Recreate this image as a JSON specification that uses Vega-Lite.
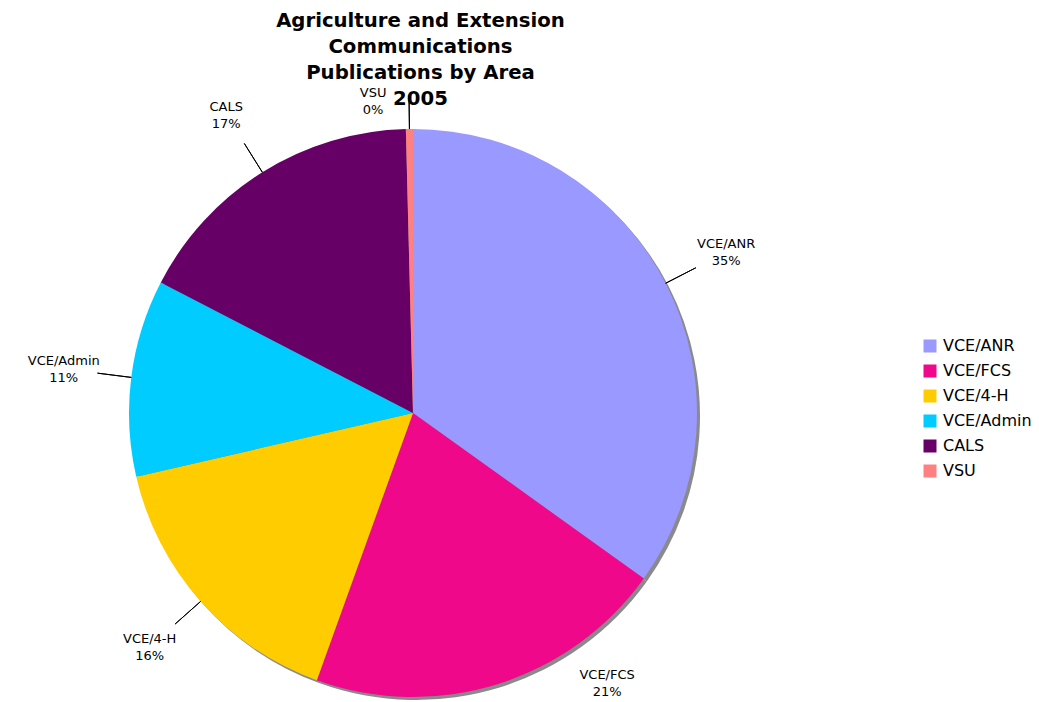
{
  "$schema": "https://vega.github.io/schema/vega-lite/v6.json",
  "width": 1039,
  "height": 702,
  "autosize": {"type": "none"},
  "padding": 0,
  "background": "white",
  "config": {
    "view": {"stroke": null},
    "font": "DejaVu Sans"
  },
  "title": {
    "text": ["Agriculture and Extension", "Communications", "Publications by Area", "2005"],
    "font": "DejaVu Sans",
    "fontSize": 19.7,
    "fontWeight": "bold",
    "color": "#000000",
    "lineHeight": 26,
    "anchor": "middle",
    "frame": "group",
    "dx": -99,
    "offset": -109
  },
  "data": {
    "values": [
      {"area": "VCE/ANR", "share": 0.349, "label": ["VCE/ANR", "35%"]},
      {"area": "VCE/FCS", "share": 0.206, "label": ["VCE/FCS", "21%"]},
      {"area": "VCE/4-H", "share": 0.159, "label": ["VCE/4-H", "16%"]},
      {"area": "VCE/Admin", "share": 0.112, "label": ["VCE/Admin", "11%"]},
      {"area": "CALS", "share": 0.170, "label": ["CALS", "17%"]},
      {"area": "VSU", "share": 0.004, "label": ["VSU", "0%"]}
    ]
  },
  "transform": [{"window": [{"op": "row_number", "as": "rank"}]}],
  "encoding": {
    "theta": {"field": "share", "type": "quantitative", "stack": true},
    "order": {"field": "rank", "type": "quantitative", "sort": "ascending"}
  },
  "layer": [
    {
      "mark": {"type": "arc", "x": 416, "y": 416, "outerRadius": 284, "fill": "#8a8a8a", "stroke": null}
    },
    {
      "mark": {"type": "arc", "x": 413, "y": 413, "outerRadius": 284, "stroke": null},
      "encoding": {
        "color": {
          "field": "area",
          "type": "nominal",
          "scale": {
            "domain": ["VCE/ANR", "VCE/FCS", "VCE/4-H", "VCE/Admin", "CALS", "VSU"],
            "range": ["#9999FF", "#F0088A", "#FFCC00", "#00CCFF", "#660066", "#FF8080"]
          },
          "legend": {
            "title": null,
            "orient": "none",
            "legendX": 922,
            "legendY": 338,
            "padding": 0,
            "symbolType": "square",
            "symbolSize": 169,
            "symbolStrokeWidth": 0,
            "symbolOpacity": 1,
            "labelFont": "DejaVu Sans",
            "labelFontSize": 16,
            "labelColor": "#000000",
            "labelOffset": 5,
            "labelLimit": 300,
            "rowPadding": 9
          }
        }
      }
    },
    {
      "mark": {"type": "arc", "x": 413, "y": 413, "radius": 284, "radius2": 318, "padAngle": 3, "fill": null, "stroke": "#000000", "strokeWidth": 1},
      "encoding": {
        "strokeOpacity": {"condition": {"test": "datum.area === 'VCE/FCS'", "value": 0}, "value": 1}
      }
    },
    {
      "mark": {"type": "text", "x": 413, "y": 413, "radius": 352, "dy": -8, "align": "center", "baseline": "middle", "fontSize": 13, "lineHeight": 17, "font": "DejaVu Sans", "color": "#000000"},
      "encoding": {
        "text": {"field": "label", "type": "nominal"},
        "opacity": {"condition": {"test": "datum.area === 'VCE/FCS' || datum.area === 'VSU'", "value": 0}, "value": 1}
      }
    },
    {
      "mark": {"type": "text", "x": 413, "y": 413, "radius": 300, "dx": 105, "dy": -24, "align": "center", "baseline": "middle", "fontSize": 13, "lineHeight": 17, "font": "DejaVu Sans", "color": "#000000"},
      "encoding": {
        "text": {"field": "label", "type": "nominal"},
        "opacity": {"condition": {"test": "datum.area === 'VCE/FCS'", "value": 1}, "value": 0}
      }
    },
    {
      "mark": {"type": "text", "x": 413, "y": 413, "radius": 312, "dx": -36, "dy": -8, "align": "center", "baseline": "middle", "fontSize": 13, "lineHeight": 17, "font": "DejaVu Sans", "color": "#000000"},
      "encoding": {
        "text": {"field": "label", "type": "nominal"},
        "opacity": {"condition": {"test": "datum.area === 'VSU'", "value": 1}, "value": 0}
      }
    }
  ]
}
